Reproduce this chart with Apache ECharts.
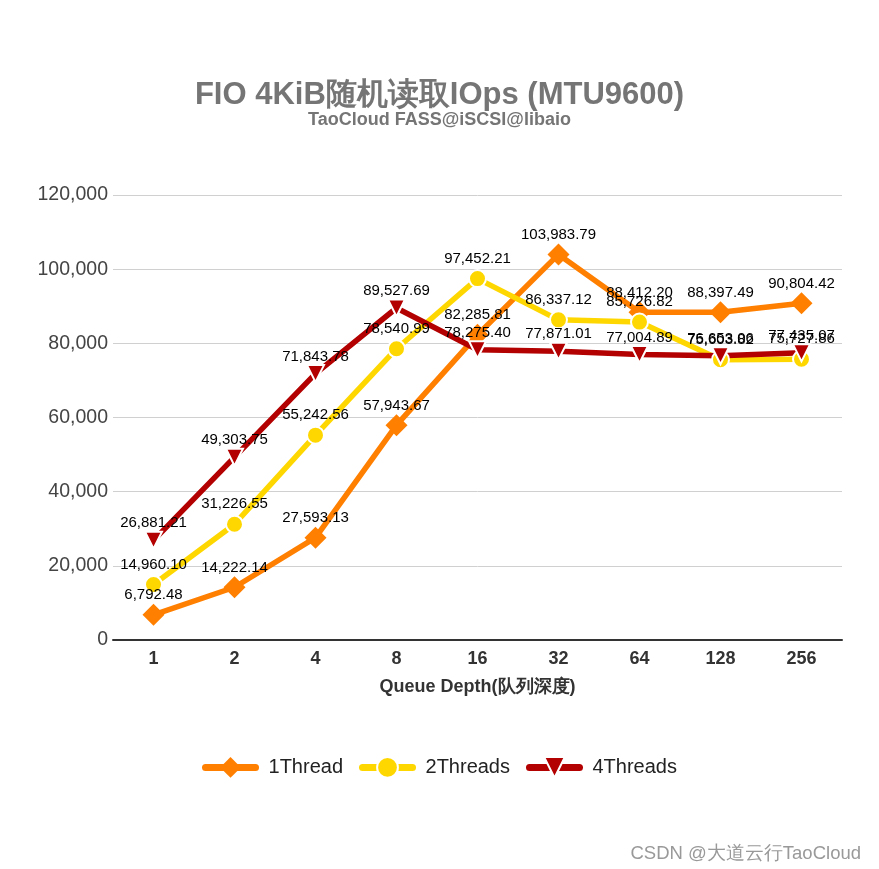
<!DOCTYPE html>
<html><head><meta charset="utf-8">
<script src="https://cdn.jsdelivr.net/npm/echarts@6/dist/echarts.min.js"></script>
<style>html,body{margin:0;padding:0;background:#fff}#c{width:879px;height:869px}</style>
</head><body><div id="c"></div>
<script>
const categories = ['1','2','4','8','16','32','64','128','256'];
const oneThread = [6792.48, 14222.14, 27593.13, 57943.67, 82285.81, 103983.79, 88412.20, 88397.49, 90804.42];
const twoThreads = [14960.10, 31226.55, 55242.56, 78540.99, 97452.21, 86337.12, 85726.82, 75603.82, 75727.86];
const fourThreads = [26881.21, 49303.75, 71843.78, 89527.69, 78275.40, 77871.01, 77004.89, 76653.06, 77435.07];
const seriesNames = ['1Thread','2Threads','4Threads'];

const font = 'Liberation Sans, Arial, sans-serif';
const fmt = v => v.toLocaleString('en-US',{minimumFractionDigits:2, maximumFractionDigits:2});
function mk(name, data, color, symbol, size, dist){
  return {
    name, type:'line', data, symbol, symbolSize:size,
    lineStyle:{width:5.5, color},
    itemStyle:{color, borderColor:'#fff', borderWidth: symbol==='diamond'?0:2},
    label:{show:true, position:'top', distance:dist, color:'#000', fontSize:15, fontFamily:font,
      formatter:p=>fmt(p.value)},
    z: 2
  };
}
const chart = echarts.init(document.getElementById('c'));
chart.setOption({
  backgroundColor:'#fff',
  animation:false,
  title:[{
    text:'FIO 4KiB随机读取IOps (MTU9600)', left:'center', top:75,
    textStyle:{fontSize:31, fontWeight:'bold', color:'#757575', fontFamily:font}
  },{
    text:'TaoCloud FASS@iSCSI@libaio', left:'center', top:106,
    textStyle:{fontSize:18, fontWeight:'bold', color:'#757575', fontFamily:font}
  },{
    text:'CSDN @大道云行TaoCloud', right:13, top:839,
    textStyle:{fontSize:18.5, fontWeight:'normal', color:'#999', fontFamily:font}
  }],
  legend:{
    top:751, left:'center', itemWidth:50, itemHeight:26, itemGap:16,
    textStyle:{fontSize:20, color:'#222', fontFamily:font, padding:[0,0,0,8]},
    lineStyle:{width:7, cap:'round'},
    data: seriesNames
  },
  grid:{left:113, right:37, top:195, bottom:229},
  xAxis:{
    type:'category', data:categories, boundaryGap:true,
    name:'Queue Depth(队列深度)', nameLocation:'middle', nameGap:38,
    nameTextStyle:{fontSize:18, fontWeight:'bold', color:'#333', fontFamily:font},
    axisLine:{lineStyle:{color:'#333', width:2}},
    axisTick:{show:false},
    axisLabel:{fontSize:18, fontWeight:'bold', color:'#333', fontFamily:font, margin:10}
  },
  yAxis:{
    type:'value', min:0, max:120000, interval:20000,
    axisLabel:{fontSize:19.5, color:'#444', fontFamily:font, margin:5,
      formatter:v=>v.toLocaleString('en-US')},
    splitLine:{lineStyle:{color:'#d0d0d0', width:1}},
    axisLine:{show:false}, axisTick:{show:false}
  },
  series:[
    mk(seriesNames[0], oneThread, '#FF7F00', 'diamond', 22, 1),
    mk(seriesNames[1], twoThreads, '#FFD700', 'circle', 17, 3),
    mk(seriesNames[2], fourThreads, '#B30000', 'path://M0,0 L10,0 L5,10 Z', 17, 0)
  ]
});
</script></body></html>
